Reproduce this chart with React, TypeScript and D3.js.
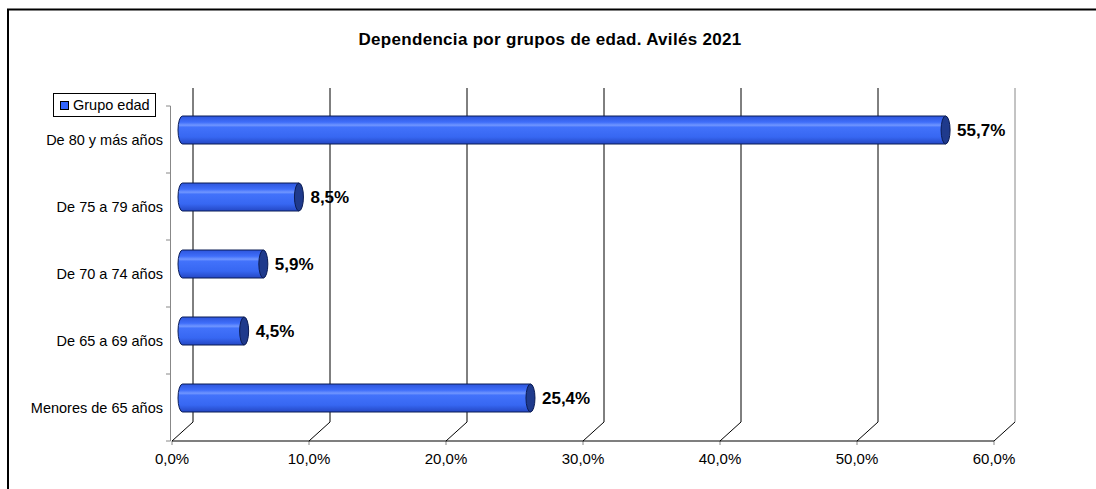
import React from 'react'
import * as d3 from 'd3'

const title = 'Dependencia por grupos de edad. Avilés 2021'
const seriesName = 'Grupo edad'
const categories = ['De 80 y más años', 'De 75 a 79 años', 'De 70 a 74 años', 'De 65 a 69 años', 'Menores de 65 años']
const values = [55.7, 8.5, 5.9, 4.5, 25.4]
const xTicks = [0, 10, 20, 30, 40, 50, 60]

const W = 1096
const H = 489
// 3D depth offset of the back wall
const DX = 21
const DY = -19

const fmt = (v: number, d: number) => v.toFixed(d).replace('.', ',') + '%'

export default function App() {
    const x = d3.scaleLinear().domain([0, 60]).range([172, 994])
    const y = d3.scaleBand().domain(categories).range([106, 441])
    const bw = y.bandwidth()
    const barH = 28
    const rx = 4.5
    const gridTop = 88
    const floorY = 441

    return (
        <svg width={W} height={H} style={{ position: 'absolute', left: 0, top: 0, fontFamily: 'Liberation Sans, Arial, sans-serif' }}>
            <defs>
                <linearGradient id="bar" x1="0" y1="0" x2="0" y2="1">
                    <stop offset="0" stopColor="#2d55dc" />
                    <stop offset="0.22" stopColor="#3f6efa" />
                    <stop offset="0.33" stopColor="#7096ff" />
                    <stop offset="0.4" stopColor="#4272fb" />
                    <stop offset="0.75" stopColor="#3767f2" />
                    <stop offset="1" stopColor="#2447c4" />
                </linearGradient>
            </defs>
            <rect x={8} y={9.5} width={W} height={H} fill="white" stroke="#000" strokeWidth={2} />

            <text x={550} y={44.5} textAnchor="middle" fontSize={17} fontWeight="bold" letterSpacing={0.3}>{title}</text>

            {/* back wall vertical gridlines and floor diagonals */}
            {xTicks.map((t, i) => (
                <g key={t}>
                    <line x1={x(t) + DX} x2={x(t) + DX} y1={gridTop} y2={floorY + DY}
                        stroke={i === xTicks.length - 1 ? '#888' : '#000'} strokeWidth={1} />
                    <line x1={x(t)} y1={floorY} x2={x(t) + DX} y2={floorY + DY} stroke="#000" strokeWidth={1} />
                    <line x1={x(t)} x2={x(t)} y1={floorY} y2={floorY + 4} stroke="#888" />
                    <text x={x(t)} y={463.5} textAnchor="middle" fontSize={15}>{fmt(t, 1)}</text>
                </g>
            ))}
            <line x1={x(0)} x2={x(60)} y1={floorY} y2={floorY} stroke="#000" strokeWidth={1.2} />

            {/* category axis */}
            <line x1={170.5} x2={170.5} y1={106} y2={floorY} stroke="#888" />
            {[...categories.map(c => y(c)!), 441].map((v, i) => (
                <line key={i} x1={166} x2={170.5} y1={v} y2={v} stroke="#888" />
            ))}
            {categories.map(c => (
                <text key={c} x={163} y={y(c)! + bw / 2} dy="0.35em" textAnchor="end" fontSize={14.5}>{c}</text>
            ))}

            {/* cylinders */}
            {categories.map((c, i) => {
                const cy = y(c)! + bw / 2 + DY / 2
                const x0 = x(0) + DX / 2
                const x1 = x(values[i]) + DX / 2
                const top = cy - barH / 2
                const body = `M${x0},${top} L${x1},${top} L${x1},${top + barH} L${x0},${top + barH} A${rx},${barH / 2} 0 0 1 ${x0},${top} Z`
                return (
                    <g key={c}>
                        <path d={body} fill="url(#bar)" stroke="#0b1c55" strokeWidth={1} />
                        <ellipse cx={x1} cy={cy} rx={rx} ry={barH / 2} fill="#1f3a8c" stroke="#0b1c55" strokeWidth={1} />
                        <text x={x1 + rx + 7} y={cy} dy="0.35em" fontSize={17} fontWeight="bold">{fmt(values[i], 1)}</text>
                    </g>
                )
            })}

            {/* legend */}
            <rect x={53.5} y={93.5} width={102} height={23} fill="white" stroke="#000" />
            <rect x={60.5} y={101.5} width={8} height={8} fill="#3366ff" stroke="#000" />
            <text x={73} y={105} dy="0.35em" fontSize={14.5}>{seriesName}</text>
        </svg>
    )
}
